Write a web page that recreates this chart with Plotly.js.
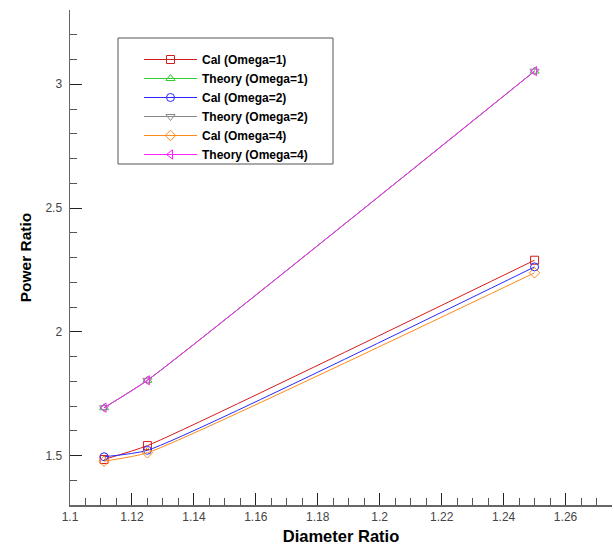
<!DOCTYPE html>
<html>
<head>
<meta charset="utf-8">
<script src="https://cdn.plot.ly/plotly-3.0.1.min.js"></script>
<style>html,body{margin:0;padding:0;background:#fff;}#chart{width:614px;height:549px;}</style>
</head>
<body>
<div id="chart"></div>
<script>
const diameterRatio = [1.111, 1.125, 1.25];
const calOmega1 = [1.484, 1.540, 2.289];
const theoryOmega1 = [1.693, 1.804, 3.053];
const calOmega2 = [1.495, 1.521, 2.262];
const theoryOmega2 = [1.693, 1.804, 3.053];
const calOmega4 = [1.477, 1.511, 2.238];
const theoryOmega4 = [1.693, 1.804, 3.053];
const seriesNames = ['Cal (Omega=1)', 'Theory (Omega=1)', 'Cal (Omega=2)', 'Theory (Omega=2)', 'Cal (Omega=4)', 'Theory (Omega=4)'];
const seriesValues = [calOmega1, theoryOmega1, calOmega2, theoryOmega2, calOmega4, theoryOmega4];
const seriesColors = ['#d41c1c', '#33cc33', '#2a2aff', '#888888', '#ff8a1a', '#ff22ff'];
const seriesSymbols = ['square-open', 'triangle-up-open', 'circle-open', 'triangle-down-open', 'diamond-open', 'triangle-left-open'];

const traces = seriesValues.map((vals, i) => ({
  type: 'scatter',
  mode: 'lines+markers',
  name: seriesNames[i],
  x: diameterRatio,
  y: vals,
  line: {color: seriesColors[i], width: 1, shape: 'spline', smoothing: 0.5},
  marker: {symbol: seriesSymbols[i], size: 8, color: seriesColors[i], line: {color: seriesColors[i], width: 1}}
}));

const font = 'Liberation Sans, Arial, sans-serif';
const layout = {
  width: 614,
  height: 549,
  margin: {l: 70, r: 2, t: 10, b: 44},
  paper_bgcolor: '#ffffff',
  plot_bgcolor: '#ffffff',
  font: {family: font, size: 12, color: '#333333'},
  showlegend: true,
  legend: {
    x: (139 - 70) / 542, y: (505 - 45) / 495, xanchor: 'left', yanchor: 'top',
    bgcolor: 'rgba(0,0,0,0)', borderwidth: 0,
    font: {family: font, size: 12, color: '#000000', weight: 'bold'},
    itemwidth: 53,
    tracegroupgap: 0
  },
  shapes: [{
    type: 'rect', xref: 'paper', yref: 'paper',
    x0: (118 - 70) / 542, x1: (333 - 70) / 542,
    y0: (505 - 164) / 495, y1: (505 - 38) / 495,
    line: {color: '#555555', width: 1}, fillcolor: 'rgba(0,0,0,0)', layer: 'below'
  }],
  xaxis: {
    range: [1.1, 1.275],
    tickmode: 'linear', tick0: 1.1, dtick: 0.02,
    ticks: 'inside', ticklen: 12, tickcolor: '#222222', tickwidth: 1,
    minor: {dtick: 0.005, ticks: 'inside', ticklen: 7, tickcolor: '#555555', tickwidth: 1},
    showline: true, linecolor: '#666666', linewidth: 1.5,
    showgrid: false, zeroline: false,
    tickfont: {family: font, size: 12, color: '#444444'},
    title: {text: 'Diameter Ratio', font: {family: font, size: 16.5, color: '#000000', weight: 'bold'}, standoff: 7}
  },
  yaxis: {
    range: [1.3, 3.3],
    tickmode: 'linear', tick0: 1.5, dtick: 0.5,
    ticks: 'inside', ticklen: 12, tickcolor: '#222222', tickwidth: 1,
    minor: {dtick: 0.1, ticks: 'inside', ticklen: 7, tickcolor: '#555555', tickwidth: 1},
    showline: true, linecolor: '#666666', linewidth: 1.5,
    showgrid: false, zeroline: false,
    tickfont: {family: font, size: 12, color: '#444444'},
    ticklabelstandoff: 4,
    title: {text: 'Power Ratio', font: {family: font, size: 15.5, color: '#000000', weight: 'bold'}, standoff: 10}
  }
};

Plotly.newPlot('chart', traces, layout, {displayModeBar: false, staticPlot: true});
</script>
</body>
</html>
